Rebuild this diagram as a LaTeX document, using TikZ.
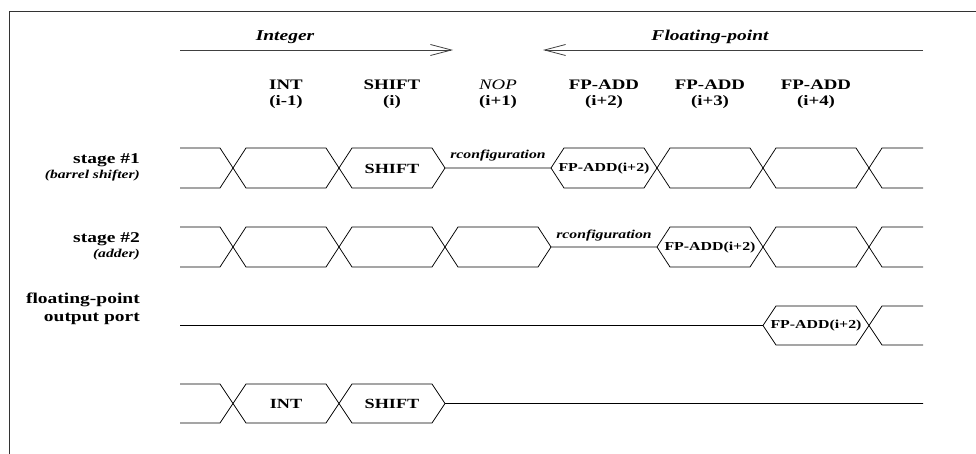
\documentclass[tikz,border=0pt]{standalone}
\usepackage{fontspec}
\setmainfont{Liberation Serif}[FakeStretch=1.3]
\usetikzlibrary{arrows.meta}

\tikzset{
  wave/.style={draw=black, line width=0.75pt, line join=miter},
  frame/.style={draw=black!80, line width=0.9pt},
  flow/.style={draw=black!75, line width=0.8pt, -{Straight Barb[length=21pt,width=11pt,line width=0.8pt]}},
  hdr/.style={font=\fontsize{14.5}{16}\selectfont\bfseries, anchor=base, inner sep=0pt},
  hdrit/.style={font=\fontsize{15}{17}\selectfont\bfseries\itshape, anchor=base, inner sep=0pt},
  nopit/.style={font=\fontsize{14.5}{16}\selectfont\itshape, anchor=base, inner sep=0pt},
  rowlbl/.style={font=\fontsize{15}{17}\selectfont\bfseries, anchor=base east, inner sep=0pt},
  rowsub/.style={font=\fontsize{12}{14}\selectfont\bfseries\itshape, anchor=base east, inner sep=0pt},
  cell/.style={font=\fontsize{12.2}{14}\selectfont\bfseries, inner sep=0pt},
  cellbig/.style={font=\fontsize{14}{16}\selectfont\bfseries, inner sep=0pt},
  note/.style={font=\fontsize{12.1}{14}\selectfont\bfseries\itshape, anchor=base, inner sep=0pt},
}

\begin{document}
\begin{tikzpicture}[x=1pt,y=-1pt]
\useasboundingbox (0,0) rectangle (976,454);

% outer frame (open to the right and bottom)
\draw[frame] (9,454) -- (9,11) -- (976,11);

% direction arrows
\coordinate (intA) at (180,50);
\coordinate (intB) at (453,50);
\coordinate (fpA) at (923,50);
\coordinate (fpB) at (543,50);
\draw[flow] (intA) -- (intB);
\draw[flow] (fpA) -- (fpB);
\node[hdrit] (lblInt) at (285,41) {Integer};
\node[hdrit] (lblFp) at (710,41) {Floating-point};

% instruction headers
\node[hdr] (h1a) at (286,90) {INT};
\node[hdr] (h1b) at (286,106) {(i-1)};
\node[hdr] (h2a) at (392,90) {SHIFT};
\node[hdr] (h2b) at (392,106) {(i)};
\node[nopit] (h3a) at (498,90) {NOP};
\node[hdr] (h3b) at (498,106) {(i+1)};
\node[hdr] (h4a) at (604,90) {FP-ADD};
\node[hdr] (h4b) at (604,106) {(i+2)};
\node[hdr] (h5a) at (710,90) {FP-ADD};
\node[hdr] (h5b) at (710,106) {(i+3)};
\node[hdr] (h6a) at (816,90) {FP-ADD};
\node[hdr] (h6b) at (816,106) {(i+4)};

% row labels
\node[rowlbl] (r1a) at (140,164) {stage \#1};
\node[rowsub] (r1b) at (140,179) {(barrel shifter)};
\node[rowlbl] (r2a) at (140,243) {stage \#2};
\node[rowsub] (r2b) at (140,257) {(adder)};
\node[rowlbl] (r3a) at (140,303) {floating-point};
\node[rowlbl] (r3b) at (140,321) {output port};

% stage #1 waveform
\draw[wave] (180,148) -- (220,148) -- (246,188) -- (326,188) -- (352,148) -- (432,148) -- (445,168)
  -- (551,168) -- (564,148) -- (644,148) -- (670,188) -- (750,188) -- (776,148) -- (856,148) -- (882,188) -- (923,188);
\draw[wave] (180,188) -- (220,188) -- (246,148) -- (326,148) -- (352,188) -- (432,188) -- (445,168);
\draw[wave] (551,168) -- (564,188) -- (644,188) -- (670,148) -- (750,148) -- (776,188) -- (856,188) -- (882,148) -- (923,148);
\node[cellbig] (s1shift) at (392,168.5) {SHIFT};
\node[note] (s1cfg) at (498,159) {rconfiguration};
\node[cell] (s1fp) at (604,168.5) {FP-ADD(i+2)};

% stage #2 waveform
\draw[wave] (180,227) -- (220,227) -- (246,267) -- (326,267) -- (352,227) -- (432,227) -- (458,267) -- (538,267) -- (551,247)
  -- (657,247) -- (670,227) -- (750,227) -- (776,267) -- (856,267) -- (882,227) -- (923,227);
\draw[wave] (180,267) -- (220,267) -- (246,227) -- (326,227) -- (352,267) -- (432,267) -- (458,227) -- (538,227) -- (551,247);
\draw[wave] (657,247) -- (670,267) -- (750,267) -- (776,227) -- (856,227) -- (882,267) -- (923,267);
\node[note] (s2cfg) at (604,238) {rconfiguration};
\node[cell] (s2fp) at (710,247.5) {FP-ADD(i+2)};

% floating-point output port
\draw[wave] (180,325.5) -- (763,325.5) -- (776,306) -- (856,306) -- (882,345) -- (923,345);
\draw[wave] (763,325.5) -- (776,345) -- (856,345) -- (882,306) -- (923,306);
\node[cell] (s3fp) at (816,326) {FP-ADD(i+2)};

% integer result bus
\draw[wave] (180,384) -- (220,384) -- (246,423) -- (326,423) -- (352,384) -- (432,384) -- (445,403.5) -- (923,403.5);
\draw[wave] (180,423) -- (220,423) -- (246,384) -- (326,384) -- (352,423) -- (432,423) -- (445,403.5);
\node[cellbig] (s4int) at (286,404) {INT};
\node[cellbig] (s4shift) at (392,404) {SHIFT};
\end{tikzpicture}
\end{document}
